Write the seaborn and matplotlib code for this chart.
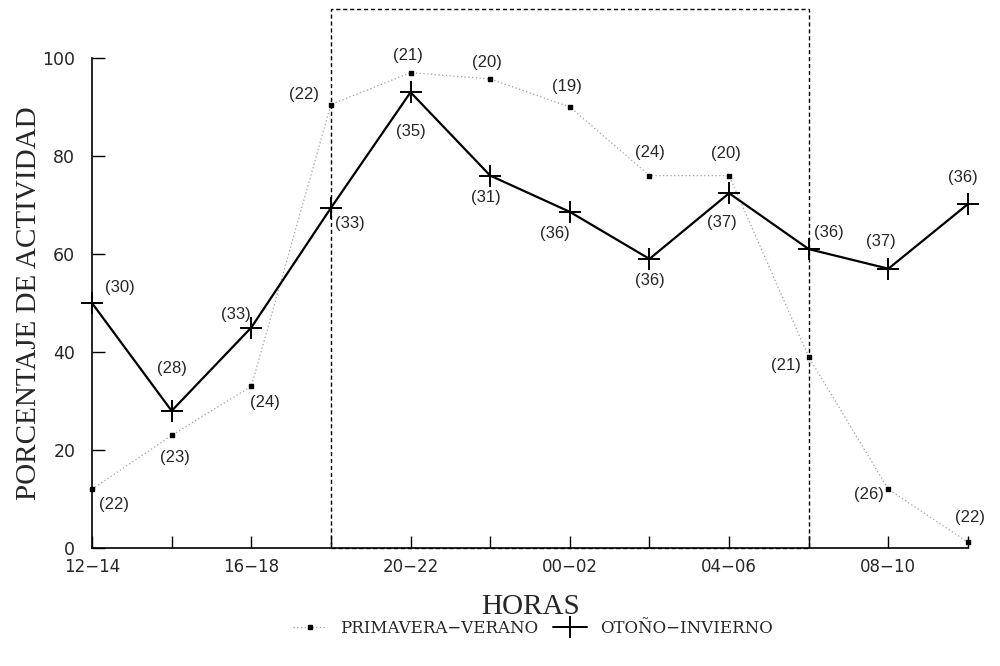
import matplotlib
matplotlib.use("Agg")
import matplotlib.pyplot as plt
import seaborn as sns
import pandas as pd
from matplotlib.patches import Rectangle
from matplotlib.lines import Line2D

# ---- data ----
horas = ["12−14", "14−16", "16−18", "18−20", "20−22", "22−24",
         "00−02", "02−04", "04−06", "06−08", "08−10", "10−12"]
primavera_verano = [12, 23, 33, 90.5, 97, 95.7, 90, 76, 76, 39, 12, 1.2]
otono_invierno = [50, 28, 45, 69.4, 93, 76, 68.6, 59, 72.4, 61, 57, 70.2]
n_pv = [22, 23, 24, 22, 21, 20, 19, 24, 20, 21, 26, 22]
n_oi = [30, 28, 33, 33, 35, 31, 36, 36, 37, 36, 37, 36]
shown_ticks = ["12−14", "16−18", "20−22", "00−02", "04−06", "08−10"]
box_range = (3, 9)
box_top = 110

# label offsets in pixels (style, not data)
off_oi = [(28, 16), (0, 42), (-15, 13), (19, -16), (0, -39), (-4, -22),
          (-15, -22), (0, -22), (-7, -29), (20, 17), (-7, 27), (-5, 27)]
off_pv = [(22, -15), (3, -22), (14, -16), (-27, 10), (-3, 17), (-3, 17),
          (-3, 20), (0, 23), (-3, 22), (-23, -9), (-19, -5), (2, 25)]

sns.set_theme(style="white")
plt.rcParams['font.family'] = ['DejaVu Sans']

fig = plt.figure(figsize=(10, 6.66), dpi=100)
ax = fig.add_axes([0.092, 0.177, 0.876, 0.736])

x = list(range(len(horas)))
df = pd.DataFrame({"x": x, "pv": primavera_verano, "oi": otono_invierno})

sns.lineplot(data=df, x="x", y="pv", ax=ax, color="#a0a0a0", lw=0.9,
             linestyle=(0, (1, 2)), marker=None, clip_on=False)
ax.scatter(df["x"], df["pv"], marker="s", s=10, color="black", zorder=5, clip_on=False)
sns.lineplot(data=df, x="x", y="oi", ax=ax, color="black", lw=1.6,
             marker="+", markersize=16, markeredgewidth=1.4,
             markeredgecolor="black", clip_on=False)

ax.set_xlim(0, len(horas) - 1)
ax.set_ylim(0, 100)
ax.set_xticks(x)
ax.set_xticklabels([h if h in shown_ticks else "" for h in horas],
                   fontsize=12, family="DejaVu Sans")
ax.set_yticks([0, 20, 40, 60, 80, 100])
ax.set_yticklabels(["0", "20", "40", "60", "80", "100"], fontsize=12.5)
ax.tick_params(axis="both", direction="in", length=9, width=1, color="black",
               bottom=True, left=True)
ax.tick_params(axis="y", pad=12)
ax.tick_params(axis="x", pad=7)
for s in ["top", "right"]:
    ax.spines[s].set_visible(False)
for s in ["left", "bottom"]:
    ax.spines[s].set_color("black")
    ax.spines[s].set_linewidth(1.2)

ax.set_xlabel("HORAS", fontsize=21, family="Liberation Serif", labelpad=13)
ax.set_ylabel("PORCENTAJE DE ACTIVIDAD", fontsize=21, family="Liberation Serif",
              labelpad=0)

# dashed box
rect = Rectangle((box_range[0], 0), box_range[1] - box_range[0], box_top,
                 fill=False, edgecolor="black", lw=1.0, linestyle=(0, (3, 2)),
                 clip_on=False, zorder=1)
ax.add_patch(rect)

for xi, yi, n, (dx, dy) in zip(x, otono_invierno, n_oi, off_oi):
    ax.annotate(f"({n})", (xi, yi), xytext=(dx, dy), textcoords="offset pixels",
                ha="center", va="center", fontsize=12, family="Liberation Sans",
                annotation_clip=False)
for xi, yi, n, (dx, dy) in zip(x, primavera_verano, n_pv, off_pv):
    ax.annotate(f"({n})", (xi, yi), xytext=(dx, dy), textcoords="offset pixels",
                ha="center", va="center", fontsize=12, family="Liberation Sans",
                annotation_clip=False)

handles = [
    Line2D([], [], color="#a0a0a0", lw=0.9, linestyle=(0, (1, 2)),
           marker="s", markersize=3, markerfacecolor="black",
           markeredgecolor="black"),
    Line2D([], [], color="black", lw=1.4, marker="+", markersize=16,
           markeredgewidth=1.4),
]
fig.legend(handles, ["PRIMAVERA−VERANO", "OTOÑO−INVIERNO"], loc="center",
           bbox_to_anchor=(0.533, 0.057), ncol=2, frameon=False,
           prop={"family": "DejaVu Serif", "size": 12},
           handlelength=2.0, columnspacing=0.9, handletextpad=0.8)

fig.savefig("out.png", dpi=100, facecolor="white")
